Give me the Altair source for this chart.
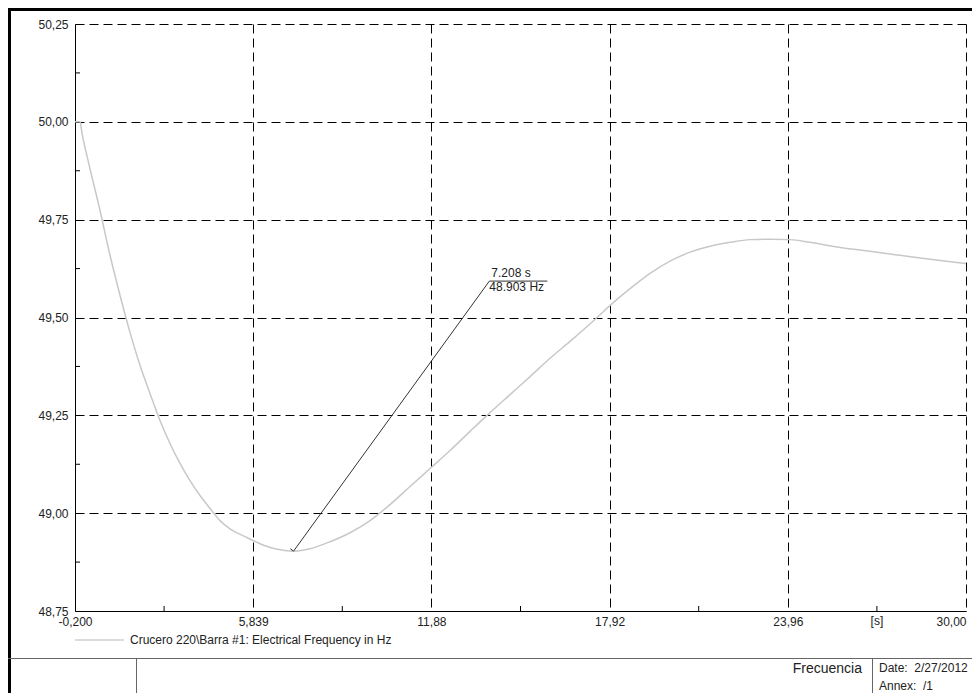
import altair as alt
import pandas as pd

# ---- data ----
time_s = [-0.2, -0.03, 0.037, 0.24, 0.647, 0.986, 1.325, 1.664, 2.003, 2.342, 2.681,
          3.02, 3.359, 3.698, 4.037, 4.376, 4.715, 5.054, 5.563, 6.071, 6.58, 7.208,
          7.766, 8.444, 9.122, 9.8, 10.478, 11.156, 11.834, 12.512, 13.19, 13.766,
          14.546, 15.224, 15.902, 16.58, 17.495, 17.936, 18.614, 19.292, 19.97,
          20.648, 21.326, 22.003, 22.681, 23.359, 24.037, 24.715, 25.732, 26.749,
          27.766, 28.783, 30.0]
freq_hz = [50.0, 50.0, 49.971, 49.902, 49.774, 49.659, 49.557, 49.462, 49.378, 49.306,
           49.237, 49.178, 49.127, 49.083, 49.045, 49.012, 48.981, 48.960, 48.940,
           48.922, 48.909, 48.903, 48.909, 48.927, 48.950, 48.981, 49.022, 49.068,
           49.114, 49.160, 49.209, 49.250, 49.303, 49.349, 49.396, 49.439, 49.500,
           49.531, 49.574, 49.613, 49.644, 49.667, 49.682, 49.692, 49.699, 49.700,
           49.699, 49.692, 49.679, 49.669, 49.659, 49.649, 49.638]

x_ticks = [-0.2, 5.839, 11.88, 17.92, 23.96, 30.0]
x_labels = ["-0,200", "5,839", "11,88", "17,92", "23,96", "30,00"]
x_minor = [2.8195, 8.8595, 14.90, 20.94, 26.98]
x_unit_pos = [26.98]
x_unit = ["[s]"]
y_ticks = [48.75, 49.0, 49.25, 49.5, 49.75, 50.0, 50.25]
y_minor = [48.875, 49.125, 49.375, 49.625, 49.875, 50.125]

series_name = "Crucero 220\\Barra #1: Electrical Frequency in Hz"
leader_x = [7.208, 13.844]
leader_y = [48.903, 49.593]
hook_x = [7.208, 7.10]
hook_y = [48.903, 48.909]
label_end_x = [15.81]
label_time = ["7.208 s"]
label_freq = ["48.903 Hz"]
block_title = "Frecuencia"
block_date = "Date:\u00a0 2/27/2012"
block_annex = "Annex:\u00a0 /1"

FONT = "Liberation Sans"
TXT = "#222222"
W, H = 891, 587

xs = alt.Scale(domain=[-0.2, 30.0], nice=False, zero=False)
ys = alt.Scale(domain=[48.75, 50.25], nice=False, zero=False)

x_expr = " : ".join(f"datum.value == {v} ? '{l}'" for v, l in zip(x_ticks, x_labels)) + " : ''"

x_axis = alt.Axis(values=x_ticks, labelExpr=x_expr, title=None, grid=True,
                  gridDash=[9, 5], gridColor="black", gridOpacity=1, gridWidth=1,
                  ticks=False, tickSize=0, domainColor="black", domainWidth=1,
                  labelPadding=5, labelFont=FONT, labelFontSize=12, labelColor=TXT,
                  labelAlign={"condition": {"test": f"datum.value == {x_ticks[-1]}", "value": "right"},
                              "value": "center"},
                  labelFlush=False, labelOverlap=False, labelBound=False)
y_axis = alt.Axis(values=y_ticks, labelExpr="replace(format(datum.value, '.2f'), '.', ',')",
                  title=None, grid=True, gridDash=[9, 5], gridColor="black", gridOpacity=1,
                  gridWidth=1, ticks=False, tickSize=0, domainColor="black", domainWidth=1,
                  labelPadding=7, labelFont=FONT, labelFontSize=12, labelColor=TXT,
                  labelFlush=False, labelOverlap=False, labelBound=False)


def X(f="x"):
    return alt.X(f"{f}:Q", scale=xs, axis=x_axis)


def Y(f="y"):
    return alt.Y(f"{f}:Q", scale=ys, axis=y_axis)


df = pd.DataFrame({"x": time_s, "y": freq_hz})

curve = alt.Chart(df).mark_line(color="#c8c8c8", strokeWidth=1.5, interpolate="monotone").encode(
    x=X(), y=Y())

xminor = alt.Chart(pd.DataFrame({"x": x_minor})).mark_rule(color="black", strokeWidth=1).encode(
    x=X(), y=alt.value(H - 5), y2=alt.value(H))
yminor = alt.Chart(pd.DataFrame({"y": y_minor})).mark_rule(color="black", strokeWidth=1).encode(
    y=Y(), x=alt.value(0), x2=alt.value(5))

unit = alt.Chart(pd.DataFrame({"x": x_unit_pos, "t": x_unit})).mark_text(
    font=FONT, fontSize=12, color=TXT, align="center", baseline="top").encode(
    x=X(), y=alt.value(H + 5), text="t:N")

leader = alt.Chart(pd.DataFrame({"x": leader_x, "y": leader_y})).mark_line(
    color="#333333", strokeWidth=1).encode(x=X(), y=Y())
hook = alt.Chart(pd.DataFrame({"x": hook_x, "y": hook_y})).mark_line(
    color="#333333", strokeWidth=1).encode(x=X(), y=Y())
shelf = alt.Chart(pd.DataFrame({"x": [leader_x[1]], "x2": label_end_x, "y": [leader_y[1]]})).mark_rule(
    color="#333333", strokeWidth=1).encode(x=X(), x2="x2:Q", y=Y())
lab_df = pd.DataFrame({"x": [leader_x[1]], "y": [leader_y[1]], "t1": label_time, "t2": label_freq})
lab1 = alt.Chart(lab_df).mark_text(font=FONT, fontSize=12, color=TXT, align="left",
                                   baseline="bottom", dx=2, dy=-1).encode(
    x=X(), y=Y(), text="t1:N")
lab2 = alt.Chart(lab_df).mark_text(font=FONT, fontSize=12, color=TXT, align="left",
                                   baseline="top", dx=0, dy=1).encode(
    x=X(), y=Y(), text="t2:N")

one = pd.DataFrame({"k": [0]})

# legend
leg_line = alt.Chart(one).mark_rule(color="#d0d0d0", strokeWidth=1.5).encode(
    x=alt.value(0), x2=alt.value(49), y=alt.value(616))
leg_text = alt.Chart(pd.DataFrame({"t": [series_name]})).mark_text(
    font=FONT, fontSize=12, color=TXT, align="left", baseline="middle").encode(
    x=alt.value(55), y=alt.value(616), text="t:N")

# frame and title block
top_bar = alt.Chart(one).mark_rule(color="black", strokeWidth=3).encode(
    x=alt.value(-67), x2=alt.value(W + 6), y=alt.value(-14.5))
left_bar = alt.Chart(one).mark_rule(color="black", strokeWidth=3).encode(
    x=alt.value(-65.5), y=alt.value(-16), y2=alt.value(H + 100))
block_h = alt.Chart(one).mark_rule(color="#666666", strokeWidth=1).encode(
    x=alt.value(-67), x2=alt.value(W + 6), y=alt.value(634.5))
block_v1 = alt.Chart(one).mark_rule(color="#666666", strokeWidth=1).encode(
    x=alt.value(61.5), y=alt.value(634.5), y2=alt.value(H + 100))
block_v2 = alt.Chart(one).mark_rule(color="#666666", strokeWidth=1).encode(
    x=alt.value(797.5), y=alt.value(634.5), y2=alt.value(H + 100))
t_title = alt.Chart(pd.DataFrame({"t": [block_title]})).mark_text(
    font=FONT, fontSize=14, color=TXT, align="right", baseline="middle").encode(
    x=alt.value(787), y=alt.value(645), text="t:N")
t_date = alt.Chart(pd.DataFrame({"t": [block_date]})).mark_text(
    font=FONT, fontSize=12, color=TXT, align="left", baseline="middle").encode(
    x=alt.value(804), y=alt.value(644), text="t:N")
t_annex = alt.Chart(pd.DataFrame({"t": [block_annex]})).mark_text(
    font=FONT, fontSize=12, color=TXT, align="left", baseline="middle").encode(
    x=alt.value(804), y=alt.value(662), text="t:N")

chart = alt.layer(
    curve, xminor, yminor, unit, leader, hook, shelf, lab1, lab2,
    leg_line, leg_text, top_bar, left_bar, block_h, block_v1, block_v2,
    t_title, t_date, t_annex,
).properties(
    width=W, height=H,
    padding={"left": 67, "top": 16, "right": 6, "bottom": 82},
    autosize=alt.AutoSizeParams(type="none"),
    background="white",
).configure_view(stroke=None)

chart.save("out.html", embed_options={"renderer": "svg", "actions": False})
